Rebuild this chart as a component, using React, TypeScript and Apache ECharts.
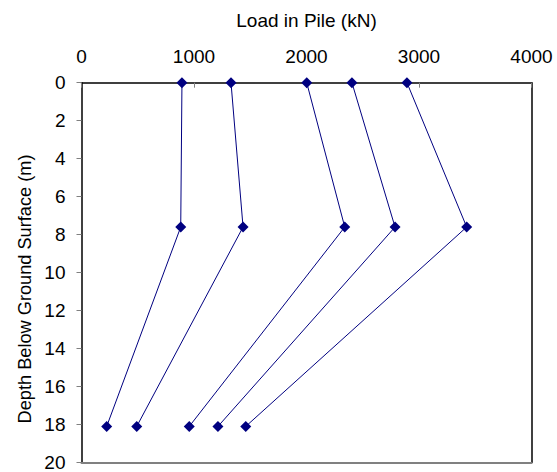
import React, { useEffect, useRef } from "react";
import * as echarts from "echarts";

const depths = [0, 7.6, 18.1];
const load1 = [893, 882, 224];
const load2 = [1329, 1436, 491];
const load3 = [2002, 2340, 958];
const load4 = [2404, 2787, 1213];
const load5 = [2893, 3424, 1460];
const allLoads = [load1, load2, load3, load4, load5];

const xTitle = "Load in Pile (kN)";
const yTitle = "Depth Below Ground Surface (m)";

const FONT = "'Liberation Sans', Arial, sans-serif";
const NAVY = "#000080";

export default function App() {
  const ref = useRef<HTMLDivElement>(null);
  useEffect(() => {
    if (!ref.current) return;
    const chart = echarts.init(ref.current, null, { renderer: "svg" });
    const series = allLoads.map((loads, i) => ({
      type: "line",
      name: "S" + (i + 1),
      data: loads.map((v, j) => [v, depths[j]]),
      symbol: "diamond",
      symbolSize: 11,
      itemStyle: { color: NAVY },
      lineStyle: { color: NAVY, width: 1 },
      xAxisIndex: 0,
      yAxisIndex: 0,
      z: 5,
    }));
    chart.setOption({
      animation: false,
      backgroundColor: "#fff",
      textStyle: { fontFamily: FONT, color: "#000" },
      grid: { left: 81.5, top: 82.7, right: 25.5, bottom: 8.7, containLabel: false },
      xAxis: [
        {
          type: "value",
          position: "top",
          min: 0,
          max: 4000,
          interval: 1000,
          name: xTitle,
          nameLocation: "middle",
          nameGap: 53,
          nameTextStyle: { fontSize: 19, color: "#000", fontFamily: FONT },
          axisLine: { show: true, onZero: false, lineStyle: { color: "#000", width: 1.5 } },
          axisTick: { show: true, inside: true, length: 5, lineStyle: { color: "#808080" } },
          axisLabel: {
            fontSize: 19,
            color: "#000",
            margin: 17,
            fontFamily: FONT,
            formatter: (v: number) => String(v),
          },
          splitLine: { show: false },
        },
        {
          type: "value",
          position: "bottom",
          min: 0,
          max: 4000,
          axisLine: { show: true, onZero: false, lineStyle: { color: "#808080", width: 2 } },
          axisTick: { show: false },
          axisLabel: { show: false },
          splitLine: { show: false },
        },
      ],
      yAxis: [
        {
          type: "value",
          inverse: true,
          min: 0,
          max: 20,
          interval: 2,
          axisLine: { show: true, onZero: false, lineStyle: { color: "#000", width: 1.5 } },
          axisTick: { show: true, inside: false, length: 5, lineStyle: { color: "#808080" } },
          axisLabel: { fontSize: 19, color: "#000", margin: 16, fontFamily: FONT },
          splitLine: { show: false },
        },
        {
          type: "value",
          inverse: true,
          position: "right",
          min: 0,
          max: 20,
          axisLine: { show: true, onZero: false, lineStyle: { color: "#000", width: 1.5 } },
          axisTick: { show: false },
          axisLabel: { show: false },
          splitLine: { show: false },
        },
      ],
      graphic: [
        {
          type: "text",
          x: 25,
          y: 289,
          rotation: Math.PI / 2,
          style: {
            text: yTitle,
            fontSize: 18.2,
            fontFamily: FONT,
            fill: "#000",
            align: "center",
            verticalAlign: "middle",
          },
        },
      ],
      series,
    });
    return () => chart.dispose();
  }, []);
  return (
    <div
      ref={ref}
      style={{ position: "absolute", left: 0, top: 0, width: 557, height: 472 }}
    />
  );
}
